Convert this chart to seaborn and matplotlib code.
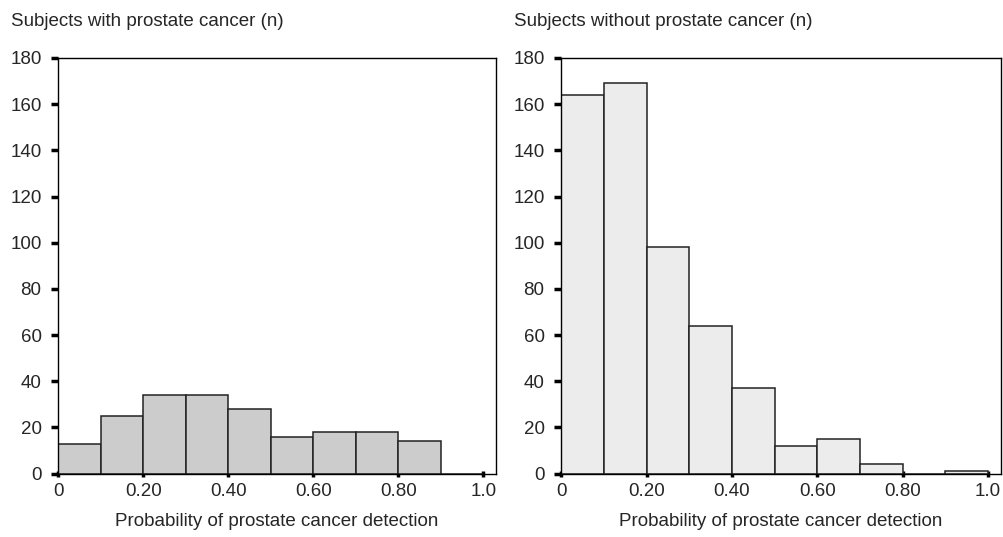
import numpy as np
import pandas as pd
import matplotlib
matplotlib.use("Agg")
import matplotlib.pyplot as plt
import seaborn as sns

# bin edges (probability) and counts
bin_edges = [0.0, 0.1, 0.2, 0.3, 0.4, 0.5, 0.6, 0.7, 0.8, 0.9, 1.0]
with_cancer = [13, 25, 34, 34, 28, 16, 18, 18, 14, 0]
without_cancer = [164, 169, 98, 64, 37, 12, 15, 4, 0, 1]

x_ticks = [0, 0.2, 0.4, 0.6, 0.8, 1.0]
x_ticklabels = ["0", "0.20", "0.40", "0.60", "0.80", "1.0"]
y_ticks = [0, 20, 40, 60, 80, 100, 120, 140, 160, 180]

titles = ["Subjects with prostate cancer (n)", "Subjects without prostate cancer (n)"]
xlabel = "Probability of prostate cancer detection"

sns.set_style("white")
plt.rcParams["font.family"] = ["Liberation Sans", "DejaVu Sans"]
fs = 13.5

fig = plt.figure(figsize=(10.04, 5.37), dpi=100)
ax1 = fig.add_axes([0.058, 0.118, 0.436, 0.774])
ax2 = fig.add_axes([0.559, 0.118, 0.438, 0.774])

centers = [(bin_edges[i] + bin_edges[i + 1]) / 2 for i in range(len(bin_edges) - 1)]
panels = [
    (ax1, with_cancer, "#cccccc"),
    (ax2, without_cancer, "#ececec"),
]

for k, (ax, counts, color) in enumerate(panels):
    df = pd.DataFrame({"prob": centers, "n": counts})
    sns.histplot(data=df, x="prob", weights="n", bins=bin_edges, ax=ax,
                 color=color, alpha=1, edgecolor="#222222", linewidth=1.1)
    ax.set_xlim(0, 1.03)
    ax.set_ylim(0, 180)
    ax.set_xticks(x_ticks)
    ax.set_xticklabels(x_ticklabels)
    ax.set_yticks(y_ticks)
    ax.set_xlabel(xlabel, fontsize=fs, labelpad=9)
    ax.set_ylabel("")
    for s in ax.spines.values():
        s.set_visible(True)
        s.set_color("black")
        s.set_linewidth(1.0)
    ax.tick_params(axis="y", which="both", direction="out", length=5, width=2.5,
                   color="black", labelsize=fs, pad=7, left=True)
    ax.tick_params(axis="x", which="both", direction="inout", length=4, width=2.5,
                   color="black", labelsize=fs, pad=5, bottom=True)
    x0 = ax.get_position().x0
    fig.text(x0 - 0.047, 0.96, titles[k], fontsize=fs, ha="left", va="center")

fig.savefig("out.png", dpi=100)
